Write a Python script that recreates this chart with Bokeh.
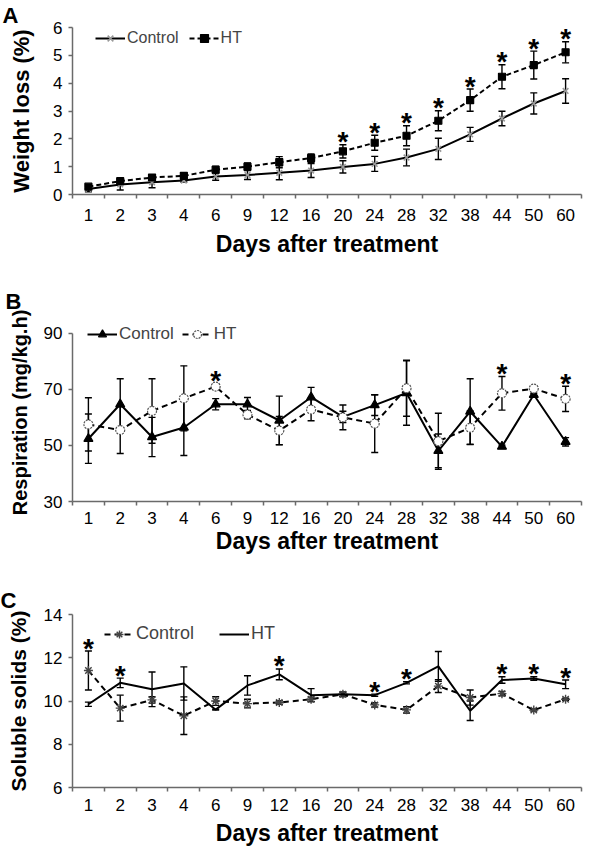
from bokeh.plotting import figure
from bokeh.layouts import column
from bokeh.models import (Range1d, FixedTicker, ColumnDataSource, Whisker, TeeHead,
                          Legend, LegendItem, Title)
from bokeh.core.properties import value
from bokeh.embed import file_html
from bokeh.resources import INLINE

# ---------------- data ----------------
days = ["1", "2", "3", "4", "6", "9", "12", "16", "20", "24", "28", "32", "38", "44", "50", "60"]

# A: weight loss (%)
a_ctrl = [0.20, 0.36, 0.44, 0.50, 0.65, 0.70, 0.78, 0.86, 0.99, 1.10, 1.33, 1.64, 2.16, 2.73, 3.27, 3.72]
a_ctrl_err = [0.10, 0.20, 0.20, 0.05, 0.14, 0.16, 0.25, 0.25, 0.22, 0.27, 0.30, 0.38, 0.25, 0.26, 0.38, 0.44]
a_ht = [0.28, 0.48, 0.61, 0.67, 0.89, 1.00, 1.16, 1.31, 1.55, 1.86, 2.11, 2.65, 3.39, 4.23, 4.65, 5.11]
a_ht_err = [0.07, 0.07, 0.07, 0.07, 0.13, 0.13, 0.20, 0.15, 0.24, 0.27, 0.36, 0.36, 0.40, 0.43, 0.50, 0.38]
a_sig = ["20", "24", "28", "32", "38", "44", "50", "60"]

# B: respiration (mg/kg.h)
b_ctrl = [52.4, 64.7, 53.0, 56.4, 64.7, 64.7, 58.9, 67.2, 60.2, 64.4, 68.7, 48.1, 62.1, 49.6, 68.1, 51.3]
b_ctrl_err = [8.8, 9.1, 7.0, 10.0, 2.0, 2.4, 8.7, 3.5, 2.0, 3.7, 11.5, 6.0, 11.7, 0.5, 0.5, 1.5]
b_ht = [57.5, 55.5, 62.3, 66.8, 71.0, 61.0, 55.3, 62.8, 60.0, 57.8, 70.4, 51.5, 56.3, 68.6, 70.3, 66.6]
b_ht_err = [9.5, 8.4, 11.5, 11.6, 1.0, 1.5, 5.0, 4.0, 4.4, 10.3, 10.0, 10.0, 6.0, 6.0, 0.5, 4.5]
b_sig = ["6", "44", "60"]

# C: soluble solids (%)
c_ctrl = [11.41, 9.67, 10.05, 9.32, 10.00, 9.88, 9.93, 10.08, 10.31, 9.82, 9.59, 10.69, 10.16, 10.34, 9.58, 10.08]
c_ctrl_err = [0.90, 0.60, 0.15, 0.87, 0.20, 0.20, 0.08, 0.10, 0.10, 0.10, 0.15, 0.30, 0.35, 0.10, 0.05, 0.05]
c_ht = [9.85, 10.84, 10.54, 10.81, 9.60, 10.72, 11.23, 10.27, 10.31, 10.27, 10.84, 11.60, 9.55, 10.97, 11.04, 10.77]
c_ht_err = [0.10, 0.22, 0.80, 0.77, 0.02, 0.45, 0.25, 0.30, 0.10, 0.05, 0.05, 0.69, 0.45, 0.15, 0.08, 0.20]
c_sig = ["1", "2", "12", "24", "28", "44", "50", "60"]

FONT = "Liberation Sans"
AXIS_COLOR = "#6a6a6a"


def make_panel(letter, ytitle, ctrl, ctrl_err, ht, ht_err, sig, yr, ybounds, yticks,
               geo, ctrl_style, ht_style, legend_geo, tg):
    xs = list(range(len(days)))
    p = figure(width=geo["w"], height=geo["h"],
               min_border_left=geo["bl"], min_border_right=geo["br"],
               min_border_top=geo["bt"], min_border_bottom=geo["bb"],
               x_range=Range1d(-0.5, len(days) - 0.5), y_range=Range1d(*yr),
               output_backend="svg", toolbar_location=None)
    p.outline_line_color = None
    p.grid.visible = False
    p.background_fill_color = "white"
    p.border_fill_color = "white"

    # panel letter
    p.title = Title(text=letter, align="left", offset=tg["toff"], standoff=tg["tstand"],
                    text_font=FONT, text_font_size="22px", text_font_style="bold",
                    text_color="black")

    # x axis: labels at category centres, ticks at category boundaries
    xa = p.xaxis[0]
    xa.ticker = FixedTicker(ticks=xs, minor_ticks=[i - 0.5 for i in range(len(days) + 1)])
    xa.major_label_overrides = {i: d for i, d in enumerate(days)}
    xa.major_tick_line_color = None
    xa.major_tick_out = 0
    xa.major_tick_in = 0
    xa.minor_tick_out = 4
    xa.minor_tick_in = 0
    xa.minor_tick_line_color = AXIS_COLOR
    xa.minor_tick_line_width = 1.5
    xa.axis_line_color = AXIS_COLOR
    xa.axis_line_width = 1.5
    xa.major_label_text_font = FONT
    xa.major_label_text_font_size = "17px"
    xa.major_label_text_color = "black"
    xa.major_label_standoff = tg["xstand"]
    xa.axis_label = "Days after treatment"
    xa.axis_label_text_font = FONT
    xa.axis_label_text_font_size = "23px"
    xa.axis_label_text_font_style = "bold"
    xa.axis_label_text_color = "black"
    xa.axis_label_standoff = tg["xlstand"]

    ya = p.yaxis[0]
    ya.ticker = FixedTicker(ticks=yticks, minor_ticks=[])
    ya.bounds = ybounds
    ya.major_tick_out = 4
    ya.major_tick_in = 0
    ya.major_tick_line_color = AXIS_COLOR
    ya.major_tick_line_width = 1.5
    ya.axis_line_color = AXIS_COLOR
    ya.axis_line_width = 1.5
    ya.major_label_text_font = FONT
    ya.major_label_text_font_size = "17px"
    ya.major_label_text_color = "black"
    ya.major_label_standoff = 6
    ya.axis_label = ytitle
    ya.axis_label_text_font = FONT
    ya.axis_label_text_font_size = tg["yfs"]
    ya.axis_label_text_font_style = "bold"
    ya.axis_label_text_color = "black"
    ya.axis_label_standoff = tg["ylstand"]

    renderers = {}
    for name, vals, errs, st in (("Control", ctrl, ctrl_err, ctrl_style), ("HT", ht, ht_err, ht_style)):
        src = ColumnDataSource(dict(x=xs, y=vals,
                                    upper=[v + e for v, e in zip(vals, errs)],
                                    lower=[v - e for v, e in zip(vals, errs)]))
        w = Whisker(source=src, base="x", upper="upper", lower="lower",
                    line_color="black", line_width=1.4,
                    upper_head=TeeHead(size=7, line_color="black", line_width=1.4),
                    lower_head=TeeHead(size=7, line_color="black", line_width=1.4))
        p.add_layout(w)
        ln = p.line("x", "y", source=src, line_color="black", line_width=st["lw"],
                    line_dash=st["dash"])
        rs = [ln]
        if st.get("marker"):
            sc = p.scatter("x", "y", source=src, marker=st["marker"], size=st["size"],
                           fill_color=st["fill"], line_color=st["mline"],
                           line_width=st.get("mlw", 1.2), line_dash=st.get("mdash", "solid"))
            rs.append(sc)
        renderers[name] = rs

    # significance asterisks above the highest error bar
    sx = [days.index(d) for d in sig]
    sy = [max(ctrl[i] + ctrl_err[i], ht[i] + ht_err[i]) for i in sx]
    p.text(x=sx, y=sy, text=["*"] * len(sx), text_font=value(FONT), text_font_size="28px",
           text_font_style="bold", text_align="center", text_baseline="middle",
           y_offset=-3, text_color="black")

    leg = Legend(items=[LegendItem(label="Control", renderers=renderers["Control"]),
                        LegendItem(label="HT", renderers=renderers["HT"])],
                 orientation="horizontal", location=(legend_geo["x"], legend_geo["y"]),
                 border_line_color=None, background_fill_alpha=0,
                 label_text_font=FONT, label_text_font_size=legend_geo["fs"],
                 glyph_width=30, glyph_height=20, label_height=20,
                 label_standoff=2, spacing=legend_geo["sp"], padding=0, margin=0)
    p.add_layout(leg)
    return p


pA = make_panel(
    "A", "Weight loss (%)", a_ctrl, a_ctrl_err, a_ht, a_ht_err, a_sig, (0, 6), (0, 6),
    [0, 1, 2, 3, 4, 5, 6],
    dict(w=584, h=277, bl=70, br=2, bt=20, bb=83),
    dict(lw=2, dash="solid", marker="x", size=8, fill="#999999", mline="#999999", mlw=1.6),
    dict(lw=2, dash="5 3", marker="square", size=7, fill="black", mline="black"),
    dict(x=23, y=146, fs="16px", sp=10),
    dict(toff=-70, tstand=0, xstand=10, xlstand=7, yfs="22px", ylstand=16))

pB = make_panel(
    "B", "Respiration (mg/kg.h)", b_ctrl, b_ctrl_err, b_ht, b_ht_err, b_sig, (30, 93.5), (30, 90),
    [30, 50, 70, 90],
    dict(w=584, h=287, bl=67, br=3, bt=43, bb=63),
    dict(lw=2, dash="solid", marker="triangle", size=9, fill="black", mline="black"),
    dict(lw=2, dash="6 4", marker="circle", size=9, fill="white", mline="#555555", mlw=1.2, mdash="2 1"),
    dict(x=15, y=157, fs="17px", sp=8),
    dict(toff=-67, tstand=19, xstand=6, xlstand=1, yfs="20px", ylstand=10))

pC = make_panel(
    "C", "Soluble solids (%)", c_ctrl, c_ctrl_err, c_ht, c_ht_err, c_sig, (6, 14), (6, 14),
    [6, 8, 10, 12, 14],
    dict(w=584, h=284, bl=72, br=1, bt=50, bb=61),
    dict(lw=2, dash="6 4", marker="asterisk", size=9, fill="#444444", mline="#444444", mlw=1.4),
    dict(lw=2, dash="solid"),
    dict(x=32, y=143, fs="18px", sp=25),
    dict(toff=-72, tstand=3, xstand=7, xlstand=6, yfs="21px", ylstand=11))

layout = column(pA, pB, pC, spacing=0)
open("out.html", "w").write(file_html(layout, INLINE))
